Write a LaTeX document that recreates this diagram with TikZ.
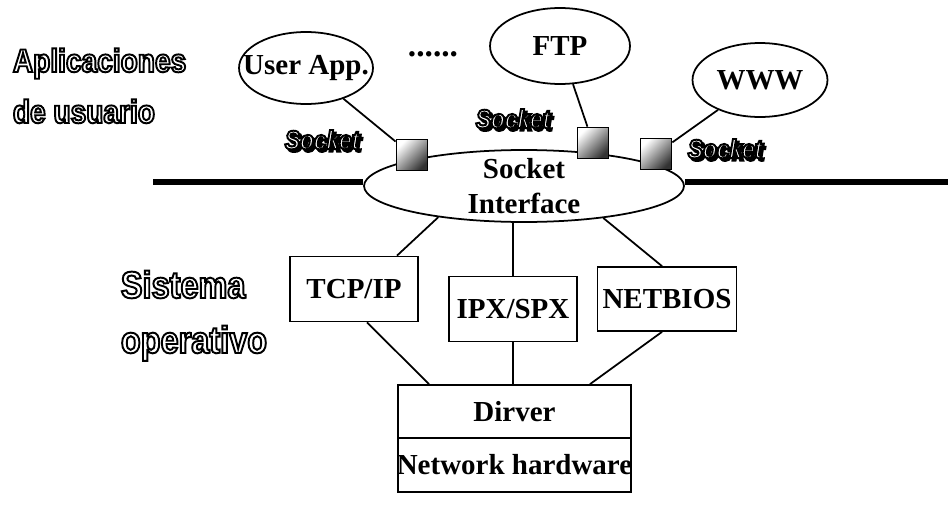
\documentclass[tikz,border=0pt]{standalone}
\usepackage{fontspec}
\setmainfont{Liberation Serif}
\newfontfamily\outlinefont{Liberation Sans}[FakeStretch=0.86]
\usetikzlibrary{shapes.geometric,calc}

\newcommand{\hollow}[1]{{\color{white}\special{pdf:literal direct 2 Tr 1.1 w 0 0 0 RG}#1\special{pdf:literal direct 0 Tr}}}
\newcommand{\shadowed}[1]{\rlap{\hspace{1.5pt}\raisebox{-1.5pt}{\special{pdf:literal direct 2 Tr 1.1 w 0 0 0 RG}#1\special{pdf:literal direct 0 Tr}}}\hollow{#1}}

\begin{document}
\begin{tikzpicture}[x=0.02cm,y=-0.02cm,line width=1pt,
  every node/.style={font=\fontsize{16.5}{20}\selectfont\bfseries},
  app/.style={ellipse,draw,fill=white,inner sep=0pt},
  layer/.style={rectangle,draw,fill=white,inner sep=0pt,minimum width=2.56cm,minimum height=1.3cm},
  sock/.style={rectangle,draw,inner sep=0pt,minimum size=0.62cm,top color=white,bottom color=black!80,shading angle=45},
  hollowtext/.style={font=\outlinefont\bfseries\fontsize{18.6}{22}\selectfont,anchor=base west,inner sep=0pt},
  bighollow/.style={hollowtext,font=\outlinefont\bfseries\fontsize{21.5}{24}\selectfont},
  socklbl/.style={font=\outlinefont\bfseries\itshape\fontsize{15}{17}\selectfont,inner sep=0pt},
  rail/.style={line width=3.2pt}]
\useasboundingbox (0,0) rectangle (951,507);

\node[hollowtext] (apl) at (12,72) {\hollow{Aplicaciones}};
\node[hollowtext] (usr) at (12,123) {\hollow{de usuario}};
\node[bighollow] (sis) at (120,298) {\hollow{Sistema}};
\node[bighollow] (ope) at (120,353) {\hollow{operativo}};

\node[app,minimum width=2.68cm,minimum height=1.44cm] (userapp) at (306,68) {\makebox[0pt]{User App.}};
\node[app,minimum width=2.8cm,minimum height=1.52cm] (ftp) at (560,46) {\makebox[0pt]{FTP}};
\node[app,minimum width=2.7cm,minimum height=1.48cm] (www) at (760,80) {\makebox[0pt]{WWW}};
\node[anchor=base,font=\fontsize{19}{20}\selectfont\bfseries] (dots) at (433,56) {......};

\node[app,align=center,inner ysep=-2pt,minimum width=6.4cm,minimum height=1.44cm] (sockif) at (524,186) {Socket\\Interface};
\coordinate (railL) at (153,182);
\coordinate (railR) at (948,182);
\draw[rail] (railL) -- (railL -| sockif.west);
\draw[rail] (railR -| sockif.east) -- (railR);

\node[sock] (sq1) at (412,155) {};
\node[sock] (sq2) at (593,143) {};
\node[sock] (sq3) at (656,154) {};
\draw (userapp) -- (sq1);
\draw (ftp) -- (sq2);
\draw (www) -- (sq3);

\node[socklbl] (lbl1) at (322,141) {\shadowed{Socket}};
\node[socklbl] (lbl2) at (513,120) {\shadowed{Socket}};
\node[socklbl] (lbl3) at (725,150) {\shadowed{Socket}};

\node[layer] (tcpip) at (354,289) {TCP/IP};
\node[layer] (ipxspx) at (513,309) {IPX/SPX};
\node[layer,minimum width=2.78cm,minimum height=1.28cm] (netbios) at (667,299) {NETBIOS};
\node[layer,minimum width=4.66cm,minimum height=1.06cm] (driver) at (514.5,411.5) {Dirver};
\node[layer,minimum width=4.66cm,minimum height=1.08cm] (hardware) at (514.5,465) {\makebox[4.5cm]{Network hardware}};

\draw (sockif.200) -- ($(tcpip.north)+(43,0)$);
\draw (sockif.south -| ipxspx.north) -- (ipxspx.north);
\draw (sockif.338) -- ($(netbios.north)+(-5,0)$);
\draw ($(tcpip.south)+(13,0)$) -- ($(driver.north)+(-85.5,0)$);
\draw (ipxspx.south) -- (driver.north -| ipxspx.south);
\draw ($(netbios.south)+(-5,0)$) -- ($(driver.north)+(75.5,0)$);
\end{tikzpicture}
\end{document}
